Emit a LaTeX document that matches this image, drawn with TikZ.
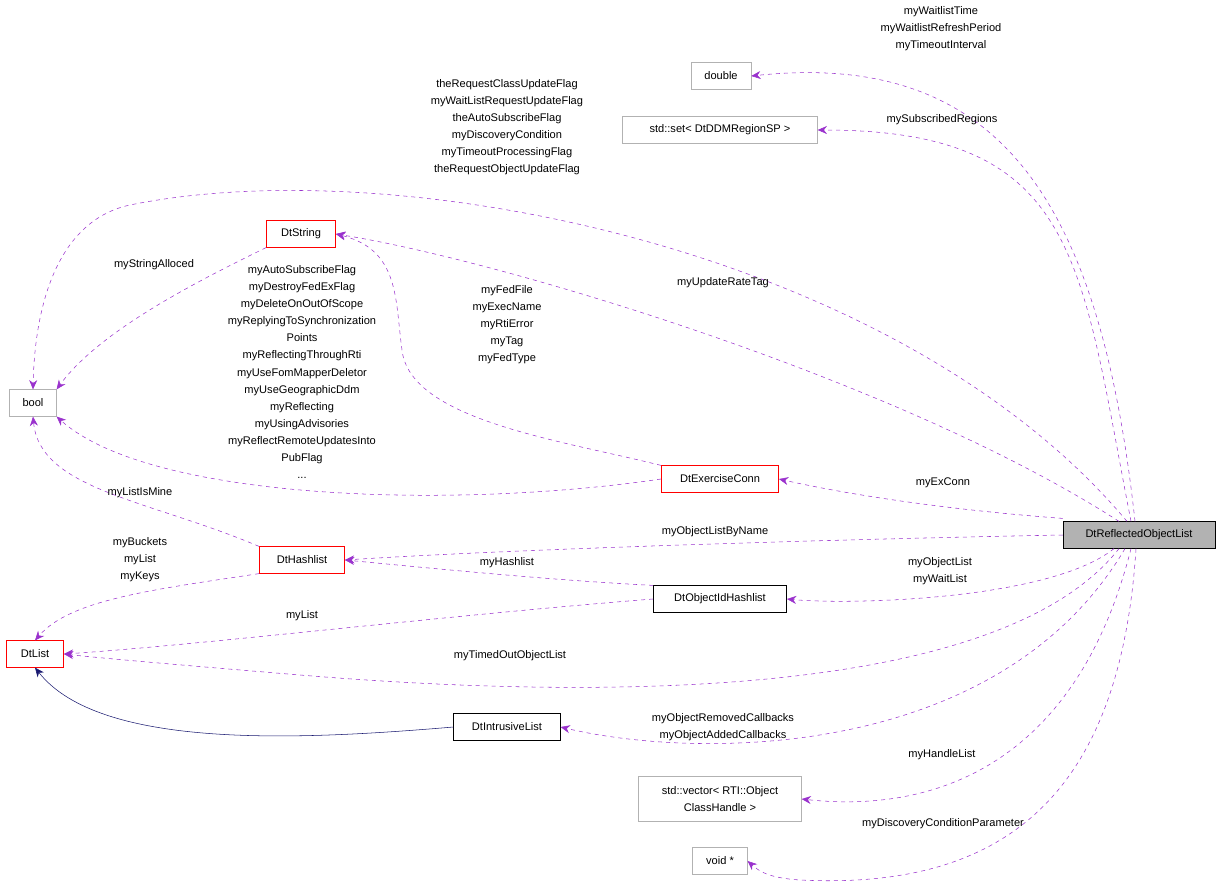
\documentclass[tikz,border=0pt]{standalone}
\usepackage{fontspec}
\setmainfont{Liberation Sans}
\usetikzlibrary{arrows.meta}
\definecolor{orch}{RGB}{154,50,205}
\definecolor{navy}{RGB}{25,25,112}
\begin{document}
\begin{tikzpicture}[x=0.75pt,y=-0.75pt,
  box/.style={draw=#1,fill=white,inner sep=0pt,minimum height=20pt,font=\fontsize{8.3}{12.8}\selectfont,align=center},
  lbl/.style={font=\fontsize{8.3}{12.8}\selectfont,align=center,inner sep=0pt},
  use/.style={draw=orch,dashed,-{Stealth[length=7pt,width=6pt]},fill=none},
  inh/.style={draw=navy,-{Stealth[length=7pt,width=6pt]}}]
\useasboundingbox (0,0) rectangle (1221,889);
\node[box=black,fill=black!30,minimum width=114pt] (ro) at (1139,535) {DtReflectedObjectList};
\node[box=black!30,minimum width=45pt] (dbl) at (721,76) {double};
\node[box=black!30,minimum width=146pt] (set) at (720,130) {std::set< DtDDMRegionSP >};
\node[box=red,minimum width=52pt] (str) at (301,234) {DtString};
\node[box=black!30,minimum width=35pt] (bool) at (33,403) {bool};
\node[box=red,minimum width=88pt] (ec) at (720,479) {DtExerciseConn};
\node[box=red,minimum width=64pt] (hl) at (302,560) {DtHashlist};
\node[box=black,minimum width=100pt] (oih) at (720,599) {DtObjectIdHashlist};
\node[box=red,minimum width=43pt] (list) at (35,654) {DtList};
\node[box=black,minimum width=80pt] (il) at (507,727) {DtIntrusiveList};
\node[box=black!30,minimum width=122pt,minimum height=34pt] (vec) at (720,799) {std::vector< RTI::Object\\ClassHandle >};
\node[box=black!30,minimum width=41pt] (void) at (720,861) {void *};

\draw[use] (ro.north) ++(-4,0) .. controls (1100,200) and (1000,50) .. (dbl.east);
\node[lbl] at (941,29) {myWaitlistTime\\myWaitlistRefreshPeriod\\myTimeoutInterval};
\draw[use] (ro.north) ++(-8,0) .. controls (1080,260) and (1080,130) .. (set.east);
\node[lbl] at (942,120) {mySubscribedRegions};
\draw[use] (ro.north) ++(-12,0) .. controls (900,250) and (400,150) .. (130,205) .. controls (60,220) and (35,300) .. (bool.north);
\node[lbl] at (507,127) {theRequestClassUpdateFlag\\myWaitListRequestUpdateFlag\\theAutoSubscribeFlag\\myDiscoveryCondition\\myTimeoutProcessingFlag\\theRequestObjectUpdateFlag};
\draw[use] (ro.north) ++(-20,0) .. controls (900,380) and (500,260) .. (str.east);
\node[lbl] at (723,283) {myUpdateRateTag};
\draw[use] (ro.north west) ++(0,-3) .. controls (950,510) and (850,495) .. (ec.east);
\node[lbl] at (943,483) {myExConn};
\draw[use] (ro.west) .. controls (800,540) and (500,550) .. (hl.east);
\node[lbl] at (715,532) {myObjectListByName};
\draw[use] (ro.south) ++(-25,0) .. controls (1050,600) and (850,605) .. (oih.east);
\node[lbl] at (940,571) {myObjectList\\myWaitList};
\draw[use] (ro.south) ++(-20,0) .. controls (1000,700) and (600,700) .. (300,675) .. controls (180,665) and (100,658) .. (list.east);
\node[lbl] at (510,656) {myTimedOutObjectList};
\draw[use] (ro.south) ++(-14,0) .. controls (1000,760) and (700,760) .. (il.east);
\node[lbl] at (723,727) {myObjectRemovedCallbacks\\myObjectAddedCallbacks};
\draw[use] (ro.south) ++(-8,0) .. controls (1080,750) and (950,815) .. (vec.east);
\node[lbl] at (942,755) {myHandleList};
\draw[use] (ro.south) ++(-3,0) .. controls (1120,800) and (1000,890) .. (800,880) .. controls (770,878) and (760,872) .. (void.east);
\node[lbl] at (943,824) {myDiscoveryConditionParameter};

\draw[use] (str.south west) .. controls (200,280) and (100,330) .. (bool.north east);
\node[lbl] at (154,265) {myStringAlloced};
\draw[use] (ec.north west) .. controls (560,440) and (410,420) .. (402,350) .. controls (395,300) and (400,250) .. (str.east);
\node[lbl] at (507,325) {myFedFile\\myExecName\\myRtiError\\myTag\\myFedType};
\draw[use] (ec.west) .. controls (450,510) and (150,500) .. (bool.south east);
\node[lbl] at (302,372) {myAutoSubscribeFlag\\myDestroyFedExFlag\\myDeleteOnOutOfScope\\myReplyingToSynchronization\\Points\\myReflectingThroughRti\\myUseFomMapperDeletor\\myUseGeographicDdm\\myReflecting\\myUsingAdvisories\\myReflectRemoteUpdatesInto\\PubFlag\\...};
\draw[use] (hl.north west) .. controls (150,500) and (40,490) .. (bool.south);
\node[lbl] at (140,493) {myListIsMine};
\draw[use] (hl.south west) .. controls (150,590) and (70,600) .. (list.north);
\node[lbl] at (140,560) {myBuckets\\myList\\myKeys};
\draw[use] (oih.north west) .. controls (550,580) and (450,570) .. (hl.east);
\node[lbl] at (507,563) {myHashlist};
\draw[use] (oih.west) .. controls (450,615) and (200,645) .. (list.east);
\node[lbl] at (302,616) {myList};
\draw[inh] (il.west) .. controls (300,740) and (100,750) .. (list.south);
\end{tikzpicture}
\end{document}
